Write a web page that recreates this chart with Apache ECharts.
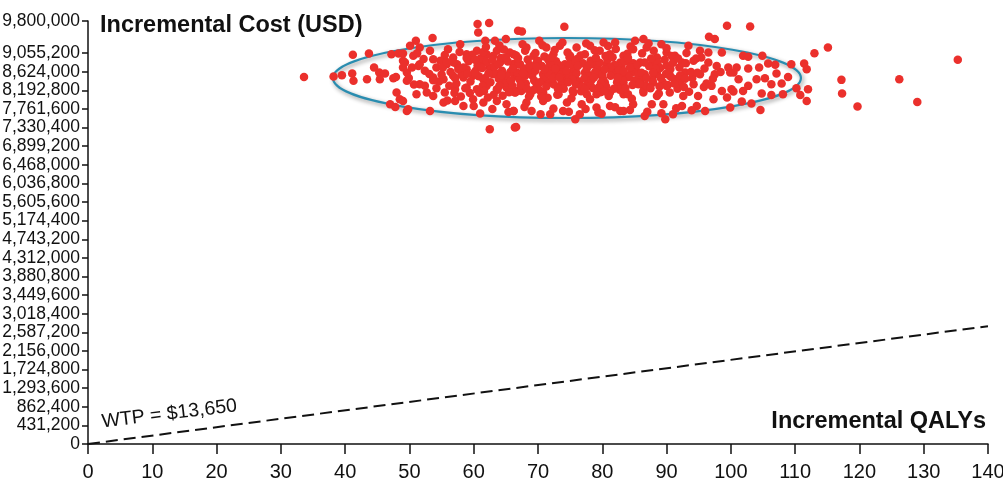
<!DOCTYPE html>
<html>
<head>
<meta charset="utf-8">
<script src="https://cdn.jsdelivr.net/npm/echarts@6/dist/echarts.min.js"></script>
<style>
html,body{margin:0;padding:0;background:#fff;}
#chart{width:1003px;height:485px;}
</style>
</head>
<body>
<div id="chart"></div>
<script>
// ---- data ----
const xMin = 0, xMax = 140, xInterval = 10;
const yMin = 0, yMax = 9800000;
// y tick values shown on the axis (multiples of 431,200 plus the axis maximum)
const yTicks = [0, 431200, 862400, 1293600, 1724800, 2156000, 2587200, 3018400, 3449600,
  3880800, 4312000, 4743200, 5174400, 5605600, 6036800, 6468000, 6899200, 7330400,
  7761600, 8192800, 8624000, 9055200, 9800000];
const yTitle = 'Incremental Cost (USD)';
const xTitle = 'Incremental QALYs';
const wtpLabel = 'WTP = $13,650';
// WTP threshold line as drawn: [QALY, cost]
const wtpLine = [[0, 0], [140, 2730000]];
// confidence ellipse: [centre QALY, centre cost, semi-axis QALY, semi-axis cost]
const ellipse = [[74.5, 8479000, 36.4, 926700]];
// simulated incremental QALY / cost pairs
const points = [
[33.6,8505000],[38.2,8514000],[39.5,8545000],[41.2,9016000],[43.7,9048000],[41.1,8584000],[41.3,8413000],[43.4,8452000],[44.5,8723000],[45.3,8607000],[46.2,8584000],[45.4,8452000],[47.5,8475000],[47.9,8505000],[47.2,9032000],[48.3,9048000],[49.0,8877000],[49.0,8723000],[48.0,8143000],[47.0,7871000],[47.8,7809000],[48.5,7987000],[49.6,7716000],
[60.6,9729000],[62.4,9752000],[60.7,9536000],[51.0,9341000],[53.6,9404000],[50.1,9225000],[51.6,9188000],[49.0,9048000],[61.8,9341000],[63.3,9341000],[65.0,9381000],[66.9,9574000],[57.9,9264000],[56.0,9148000],[50.6,8993000],[49.3,8839000],[51.6,8800000],[53.7,8916000],[54.8,8877000],[56.8,8955000],[58.9,9032000],[60.5,9109000],[62.0,9032000],[63.6,9109000],[65.6,9071000],[49.6,8607000],[50.4,8723000],[52.4,8645000],[54.2,8723000],[55.8,8800000],[57.4,8800000],[58.9,8684000],[61.0,8800000],[62.5,8723000],[64.1,8839000],[66.2,8800000],[53.7,8491000],[55.3,8452000],[56.8,8529000],[58.4,8491000],[59.9,8529000],[61.5,8452000],[63.0,8568000],[64.6,8491000],[66.4,8529000],[49.6,8413000],[51.6,8336000],[51.1,8103000],[52.7,8143000],[53.7,8065000],[55.5,8143000],[57.1,8220000],[58.9,8259000],[60.5,8220000],[62.0,8297000],[63.6,8220000],[65.1,8259000],[66.7,8180000],[49.0,7948000],[55.3,7910000],[57.1,7948000],[58.4,7832000],[59.9,7987000],[61.5,7910000],[63.6,7948000],[65.1,7871000],[49.8,7755000],[53.2,7716000],[61.0,7655000],[62.5,7291000],[66.4,7330000],[66.2,7716000],
[67.5,9559000],[74.1,9666000],[70.2,9341000],[68.2,9188000],[71.3,9188000],[73.4,9225000],[76.0,9188000],[78.1,9225000],[80.2,9304000],[82.0,9304000],[66.2,9032000],[69.3,8993000],[72.4,9032000],[75.0,8993000],[77.3,9032000],[79.6,9109000],[81.2,9032000],[83.3,8993000],[67.2,8800000],[69.8,8839000],[71.9,8761000],[74.2,8800000],[76.3,8839000],[78.6,8800000],[80.7,8800000],[82.8,8839000],[66.4,8568000],[68.5,8607000],[70.8,8568000],[72.9,8607000],[75.0,8568000],[77.3,8607000],[79.4,8568000],[81.7,8607000],[83.5,8568000],[67.5,8375000],[69.8,8336000],[71.9,8375000],[73.9,8336000],[76.0,8413000],[78.1,8336000],[80.4,8375000],[82.5,8336000],[66.4,8143000],[68.8,8103000],[70.8,8143000],[73.2,8103000],[75.5,8143000],[77.6,8103000],[79.1,8103000],[81.2,8143000],[83.3,8103000],[68.2,7910000],[70.8,7948000],[74.5,7910000],[76.8,7871000],[79.1,7794000],[81.2,7832000],[66.2,7716000],[69.0,7716000],[71.9,7639000],[73.9,7716000],[75.8,7523000],[76.5,7639000],[79.4,7678000],[82.8,7716000],[66.6,7345000],
[99.4,9690000],[96.6,9434000],[97.5,9381000],[86.4,9381000],[85.1,9341000],[84.8,9148000],[86.9,9188000],[89.2,9264000],[93.4,9225000],[95.2,9109000],[96.5,9071000],[98.6,9071000],[90.0,9071000],[91.3,8993000],[88.5,8955000],[83.8,8877000],[85.9,8839000],[87.9,8800000],[90.0,8761000],[92.4,8839000],[94.2,8877000],[95.4,8955000],[96.5,8839000],[99.6,8723000],[99.9,8607000],[84.6,8607000],[86.6,8568000],[88.5,8607000],[90.5,8529000],[92.9,8607000],[95.2,8568000],[97.5,8568000],[83.3,8375000],[85.6,8336000],[87.9,8375000],[90.0,8297000],[92.1,8375000],[94.2,8336000],[97.0,8297000],[98.6,8180000],[100.1,8220000],[84.0,8103000],[86.4,8143000],[88.5,8065000],[90.5,8143000],[92.6,8065000],[94.9,8065000],[97.3,7987000],[99.4,8026000],[84.8,7871000],[87.7,7871000],[89.5,7871000],[92.4,7832000],[94.7,7832000],[96.0,7716000],[83.3,7716000],[86.6,7600000],[89.8,7523000],[91.0,7639000],
[103.0,9675000],[115.1,9188000],[113.0,9055000],[101.9,8993000],[104.9,8993000],[102.7,8970000],[105.8,8816000],[106.9,8784000],[109.4,8800000],[111.4,8816000],[111.8,8684000],[100.9,8723000],[102.7,8700000],[104.4,8723000],[107.1,8584000],[108.9,8505000],[100.4,8607000],[101.2,8452000],[104.0,8452000],[105.3,8475000],[102.7,8297000],[106.3,8336000],[107.9,8352000],[110.2,8243000],[112.0,8220000],[100.4,8166000],[101.9,8180000],[104.8,8119000],[106.3,8087000],[108.1,8103000],[110.8,8087000],[111.8,7948000],[101.7,7933000],[103.2,7887000],[104.6,7739000],[99.9,7794000],[117.2,8436000],[117.3,8119000],
[119.7,7818000],[126.2,8452000],[129.0,7925000],[135.3,8900000],
[59.2,8870000],[60.3,8650000],[61.1,8935000],[61.8,8480000],[62.7,8710000],[63.4,8590000],[64.2,8945000],[64.9,8380000],[65.7,8620000],[66.3,8810000],[67.1,8450000],[67.8,8700000],[68.4,8910000],[69.1,8540000],[69.9,8260000],[70.6,8760000],[71.2,8420000],[72.1,8640000],[72.8,8870000],[73.5,8300000],[74.3,8520000],[74.9,8960000],[75.6,8690000],[76.4,8400000],[77.0,8820000],[77.9,8550000],[78.5,8250000],[79.3,8700000],[80.1,8470000],[80.8,8900000],[81.5,8620000],[82.3,8380000],[83.0,8760000],[84.1,8500000],[85.2,8680000],[86.0,8420000],[87.3,8750000],[88.1,8560000],[89.4,8380000],[90.6,8690000],
[58.1,8560000],[57.3,8350000],[56.4,8620000],[55.2,8720000],[54.6,8400000],[53.1,8570000],[52.2,8920000],[51.4,8760000],[50.7,8330000],[49.9,8480000],
[60.9,8140000],[62.2,8030000],[63.7,8210000],[64.5,8070000],[66.0,8300000],[67.4,8180000],[68.6,8050000],[70.2,8200000],[71.5,8020000],[73.0,8090000],[74.0,8230000],[75.2,8010000],[76.7,8170000],[78.1,7990000],[79.7,8150000],[81.0,8060000],[82.7,8210000],[84.6,8000000],[86.4,8190000],[88.8,8120000],[91.7,8230000],[93.5,8160000],[95.8,8270000],
[59.8,9020000],[61.5,9080000],[63.0,8990000],[64.7,9140000],[66.6,9000000],[68.0,9110000],[69.6,9060000],[71.0,8980000],[72.6,9130000],[74.6,9070000],[76.6,9000000],[78.8,9120000],[80.5,8990000],[82.1,9150000],[83.9,9040000],[86.2,9050000],[88.0,9110000],[90.8,8990000],[93.1,9060000],[94.6,8930000],
[57.8,9080000],[55.5,9010000],[53.2,9110000],[51.2,9050000],
[60.0,7830000],[62.9,7760000],[65.4,7690000],[67.9,7810000],[70.4,7640000],[72.4,7770000],[74.8,7700000],[77.4,7760000],[79.9,7650000],[82.0,7800000],[84.3,7740000],[87.0,7700000],[89.2,7660000],[91.5,7780000],[93.9,7730000],
[58.7,8240000],[57.0,8130000],[55.9,7960000],[54.2,8240000],[52.4,8300000],
[61.4,8300000],[62.6,8380000],[63.9,8460000],[65.1,8530000],[66.8,8600000],[68.1,8350000],[69.4,8420000],[70.9,8500000],[72.5,8330000],[73.9,8690000],[75.9,8330000],[77.2,8470000],[78.9,8620000],[80.6,8280000],[81.9,8780000],[83.6,8250000],[85.0,8420000],[86.8,8300000],[88.6,8830000],[89.9,8570000],[91.3,8450000],[92.7,8270000],[94.0,8480000],[95.9,8700000],[97.2,8460000],[98.4,8620000],
[60.6,8770000],[62.0,8850000],[63.2,8740000],[65.3,8860000],[67.0,8790000],[68.9,8680000],[70.0,8880000],[71.9,8820000],[73.2,8780000],[75.0,8800000],[76.1,8920000],[78.2,8880000],[79.6,8830000],[81.2,8720000],[83.4,8870000],[84.8,8820000],[87.6,8930000],[89.0,8710000],[91.0,8830000],[92.1,8540000],
[59.5,8400000],[60.8,8520000],[64.0,8300000],[66.5,8150000],[69.6,8650000],[71.7,8580000],[73.7,8420000],[76.0,8590000],[77.7,8330000],[80.0,8580000],[82.9,8530000],[85.6,8560000],[87.8,8440000],[90.2,8320000],
[56.9,8840000],[55.0,8560000],[53.7,8430000],[58.4,8720000],[61.9,9200000],[64.0,9230000],[67.6,9260000],[70.7,9240000],[73.8,9300000],[77.5,9280000],[80.9,9220000],[84.4,9210000],[87.2,9280000],[90.0,9170000],
[56.2,8300000],[57.6,8690000],[58.9,8940000],[59.4,8130000],[60.1,8600000],[61.3,8710000],[62.3,8590000],[63.1,8090000],[63.8,8800000],[64.4,8650000],[65.0,8960000],[65.8,8420000],[66.9,8940000],[67.3,8320000],[68.0,8530000],[68.7,8780000],[69.3,8200000],[70.3,8380000],[71.0,8680000],[71.6,8900000],[72.3,8480000],[73.1,8230000],[73.6,8560000],[74.4,8650000],[75.3,8450000],[75.8,8870000],[76.8,8280000],[77.6,8700000],[78.3,8430000],[79.0,8950000],[79.8,8370000],[80.4,8680000],[81.3,8530000],[81.8,8230000],[82.6,8660000],[83.2,8430000],[84.0,8940000],[84.7,8320000],[85.4,8780000],[86.1,8600000],[86.9,8480000],[87.5,8240000],[88.3,8690000],[89.1,8480000],[89.7,8900000],[90.4,8600000],[91.2,8350000],[92.0,8720000],[92.9,8460000],[93.8,8620000],
[55.8,8850000],[57.1,8480000],[58.0,8050000],[59.0,8580000],[60.2,8900000],[61.6,8180000],[62.9,8900000],[64.3,8550000],[65.5,8150000],[66.1,8700000],[67.7,8590000],[68.3,8230000],[69.8,8740000],[70.5,8050000],[71.3,8280000],[72.0,8950000],[72.7,8700000],[73.3,8490000],[74.7,8380000],[75.4,8190000],[76.2,8760000],[77.3,8230000],[78.0,8780000],[78.7,8490000],[79.5,8270000],[80.3,8170000],[81.6,8960000],[82.4,8480000],[83.3,8640000],[84.3,8730000],[85.8,8350000],[86.6,8840000],[87.9,8600000],[88.9,8280000],[90.7,8500000],[91.8,8930000],[93.0,8820000],[94.8,8600000],[96.2,8350000],[97.8,8760000]
];

// ---- chart ----
const FONT = '"Liberation Sans", Arial, sans-serif';
const chart = echarts.init(document.getElementById('chart'), null, {renderer: 'canvas'});
chart.setOption({
  animation: false,
  backgroundColor: '#ffffff',
  grid: {left: 88, right: 15, top: 21, bottom: 41, containLabel: false, outerBoundsMode: 'none'},
  xAxis: {
    type: 'value', min: xMin, max: xMax, interval: xInterval,
    axisLine: {show: true, onZero: false, lineStyle: {color: '#111', width: 1.5}},
    axisTick: {show: true, length: 10, lineStyle: {color: '#111', width: 1.5}},
    axisLabel: {color: '#111', fontSize: 20, fontFamily: FONT, margin: 18, hideOverlap: false},
    splitLine: {show: false}
  },
  yAxis: {
    type: 'value', min: yMin, max: yMax,
    axisLine: {show: true, onZero: false, lineStyle: {color: '#111', width: 1.5}},
    axisTick: {show: true, length: 6, customValues: yTicks, lineStyle: {color: '#111', width: 1.5}},
    axisLabel: {color: '#111', fontSize: 17.5, fontFamily: FONT, margin: 8, customValues: yTicks,
      hideOverlap: false,
      formatter: v => Number(v).toLocaleString('en-US')},
    splitLine: {show: false}
  },
  graphic: [
    {type: 'text', left: 100, top: 14, z: 10,
      style: {text: yTitle, fill: '#111', font: 'bold 23.5px ' + FONT}},
    {type: 'text', right: 17, top: 410, z: 10,
      style: {text: xTitle, fill: '#111', font: 'bold 23.5px ' + FONT}},
    {type: 'text', x: 103, y: 432, rotation: 6.8 * Math.PI / 180, z: 10,
      style: {text: wtpLabel, fill: '#111', font: '19.5px ' + FONT, verticalAlign: 'bottom'}}
  ],
  series: [
    {
      type: 'custom', z: 1, silent: true,
      encode: {x: 0, y: 1},
      data: ellipse,
      renderItem: function (params, api) {
        const c = api.coord([api.value(0), api.value(1)]);
        const s = api.size([api.value(2), api.value(3)]);
        return {
          type: 'ellipse',
          shape: {cx: c[0], cy: c[1], rx: s[0], ry: s[1]},
          style: {fill: 'none', stroke: '#2a8db0', lineWidth: 2.2,
            shadowBlur: 4, shadowColor: 'rgba(0,0,0,0.45)', shadowOffsetX: 1.5, shadowOffsetY: 2}
        };
      }
    },
    {
      type: 'line', z: 2, data: wtpLine, symbol: 'none', silent: true,
      lineStyle: {color: '#111', width: 2, type: [12, 6]}
    },
    {
      type: 'scatter', z: 3, data: points, symbol: 'circle', symbolSize: 8.5,
      itemStyle: {color: '#eb302c', opacity: 1}
    }
  ]
});
</script>
</body>
</html>
